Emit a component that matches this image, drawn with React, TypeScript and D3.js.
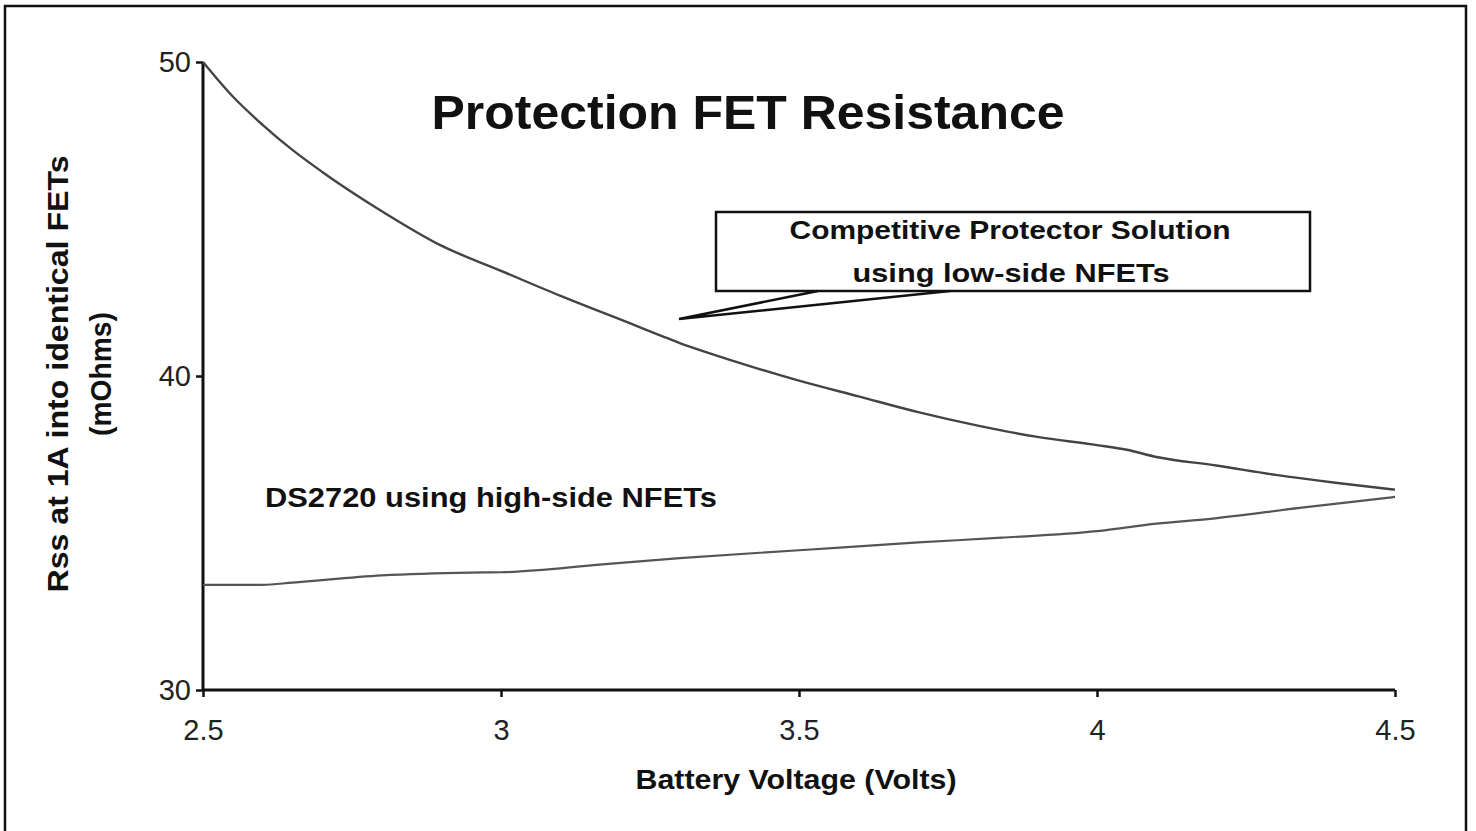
import * as d3 from "d3";
import { useEffect, useRef } from "react";

// Competitive protector (low-side NFETs)
const competitorVolts = [2.5, 2.55, 2.6, 2.65, 2.7, 2.8, 2.9, 3.0, 3.1, 3.2, 3.3, 3.4, 3.5, 3.6, 3.7, 3.8, 3.9, 4.0, 4.05, 4.1, 4.2, 4.3, 4.4, 4.5];
const competitorRss = [50.0, 48.9, 48.0, 47.2, 46.5, 45.25, 44.15, 43.35, 42.55, 41.8, 41.05, 40.42, 39.85, 39.35, 38.85, 38.42, 38.06, 37.8, 37.65, 37.42, 37.15, 36.85, 36.6, 36.38];

// DS2720 (high-side NFETs)
const ds2720Volts = [2.5, 2.6, 2.65, 2.8, 2.95, 3.0, 3.17, 3.3, 3.5, 3.7, 3.84, 4.0, 4.1, 4.19, 4.34, 4.5];
const ds2720Rss = [33.35, 33.35, 33.42, 33.65, 33.74, 33.75, 34.0, 34.2, 34.45, 34.7, 34.85, 35.06, 35.3, 35.45, 35.8, 36.15];

const xTicks = [2.5, 3, 3.5, 4, 4.5];
const yTicks = [30, 40, 50];

const title = "Protection FET Resistance";
const xLabel = "Battery Voltage (Volts)";
const yLabelLines = ["Rss at 1A into identical FETs", "(mOhms)"];
const calloutLines = ["Competitive Protector Solution", "using low-side NFETs"];
const ds2720Label = "DS2720 using high-side NFETs";

const W = 1476;
const H = 831;
const FONT = "Arial, 'Liberation Sans', Helvetica, sans-serif";

export default function App() {
    const svgRef = useRef<SVGSVGElement | null>(null);

    useEffect(() => {
        if (!svgRef.current) return;
        const svg = d3.select(svgRef.current);
        svg.selectAll("*").remove();

        const margin = { left: 203, right: W - 1395, top: 62, bottom: H - 690 };

        const x = d3.scaleLinear().domain([2.5, 4.5]).range([margin.left, W - margin.right]);
        const y = d3.scaleLinear().domain([30, 50]).range([H - margin.bottom, margin.top]);

        svg.append("rect")
            .attr("width", W).attr("height", H).attr("fill", "#fff");

        // outer frame
        svg.append("rect")
            .attr("x", 5).attr("y", 6)
            .attr("width", 1461).attr("height", 840)
            .attr("fill", "none").attr("stroke", "#111").attr("stroke-width", 2.5);

        // axes
        const xAxis = d3.axisBottom(x).tickValues(xTicks).tickSize(7).tickPadding(22)
            .tickFormat(d => String(d));
        const gx = svg.append("g")
            .attr("transform", `translate(0,${y(30)})`)
            .call(xAxis);
        gx.select(".domain").attr("stroke", "#111").attr("stroke-width", 3)
            .attr("d", `M${x(2.5)},0H${x(4.5)}`);
        gx.selectAll(".tick line").attr("stroke", "#111").attr("stroke-width", 2.5);
        gx.selectAll(".tick text")
            .attr("font-family", FONT).attr("font-size", 29).attr("fill", "#222");

        const yAxis = d3.axisLeft(y).tickValues(yTicks).tickSize(7).tickPadding(5)
            .tickFormat(d => String(d));
        const gy = svg.append("g")
            .attr("transform", `translate(${x(2.5)},0)`)
            .call(yAxis);
        gy.select(".domain").attr("stroke", "#111").attr("stroke-width", 3)
            .attr("d", `M0,${y(50)}V${y(30)}`);
        gy.selectAll(".tick line").attr("stroke", "#111").attr("stroke-width", 2.5);
        gy.selectAll(".tick text")
            .attr("font-family", FONT).attr("font-size", 29).attr("fill", "#222");

        // curves
        const line = d3.line<[number, number]>()
            .x(d => x(d[0]))
            .y(d => y(d[1]))
            .curve(d3.curveMonotoneX);

        svg.append("path")
            .datum(competitorVolts.map((v, i) => [v, competitorRss[i]] as [number, number]))
            .attr("d", line)
            .attr("fill", "none").attr("stroke", "#444").attr("stroke-width", 2.4);

        svg.append("path")
            .datum(ds2720Volts.map((v, i) => [v, ds2720Rss[i]] as [number, number]))
            .attr("d", line)
            .attr("fill", "none").attr("stroke", "#555").attr("stroke-width", 2.2);

        const boldText = (xPos: number, yPos: number, size: number, len: number, str: string, anchor = "middle") =>
            svg.append("text")
                .attr("x", xPos).attr("y", yPos)
                .attr("text-anchor", anchor)
                .attr("font-family", FONT).attr("font-weight", "bold").attr("font-size", size)
                .attr("textLength", len).attr("lengthAdjust", "spacingAndGlyphs")
                .attr("fill", "#111")
                .text(str);

        // title
        boldText(748, 129, 49, 633, title);

        // y label
        yLabelLines.forEach((t, i) => {
            svg.append("text")
                .attr("transform", `translate(${68 + i * 43},374) rotate(-90)`)
                .attr("text-anchor", "middle")
                .attr("font-family", FONT).attr("font-weight", "bold").attr("font-size", 30)
                .attr("textLength", i === 0 ? 437 : 124).attr("lengthAdjust", "spacingAndGlyphs")
                .attr("fill", "#111")
                .text(t);
        });

        // x label
        boldText(796, 789, 28, 321, xLabel);

        // callout box with pointer
        const boxX = 716, boxY = 212, boxW = 594, boxH = 79;
        svg.append("path")
            .attr("d", `M${boxX + 102},${boxY + boxH} L679,319 L${boxX + 234},${boxY + boxH}`)
            .attr("fill", "#fff").attr("stroke", "#111").attr("stroke-width", 2.5)
            .attr("stroke-linejoin", "miter");
        svg.append("rect")
            .attr("x", boxX).attr("y", boxY).attr("width", boxW).attr("height", boxH)
            .attr("fill", "none").attr("stroke", "#111").attr("stroke-width", 2.5);
        boldText(1010, boxY + 27, 26, 441, calloutLines[0]);
        boldText(1011, boxY + 70, 26, 317, calloutLines[1]);

        // DS2720 label
        boldText(265, 507, 28, 452, ds2720Label, "start");
    }, []);

    return (
        <svg
            ref={svgRef}
            width={W}
            height={H}
            style={{ position: "absolute", left: 0, top: 0, display: "block" }}
        />
    );
}
